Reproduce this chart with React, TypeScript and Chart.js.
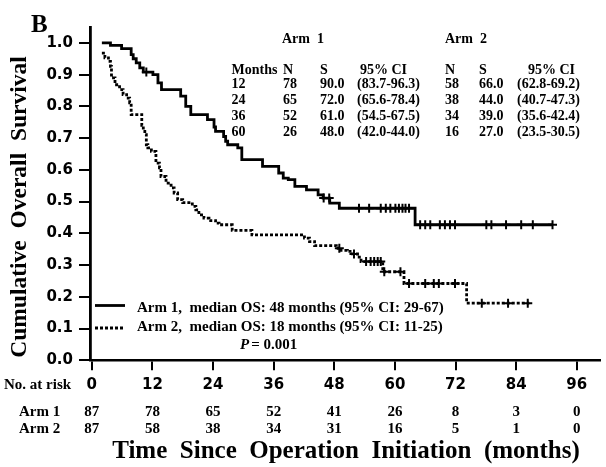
import React, { useEffect, useRef } from 'react';
import { Chart, registerables } from 'chart.js';

Chart.register(...registerables);

// ---------- data ----------
const xTicks = [0, 12, 24, 36, 48, 60, 72, 84, 96];
const yTicks = [0, 0.1, 0.2, 0.3, 0.4, 0.5, 0.6, 0.7, 0.8, 0.9, 1.0];

// Kaplan-Meier steps: at time t the survival drops to S
const arm1Times = [2.0, 3.7, 5.9, 7.8, 8.2, 8.8, 9.5, 10.2, 12.1, 13.1, 13.8, 17.6, 18.6, 19.6, 22.9, 24.2, 24.5, 26.1, 26.5, 26.9, 28.9, 29.7, 33.8, 37.0, 37.9, 38.9, 40.2, 42.5, 44.8, 45.8, 47.1, 49.0, 64.0, 91.2];
const arm1Surv = [1.0, 0.992, 0.982, 0.963, 0.95, 0.937, 0.921, 0.908, 0.9, 0.874, 0.853, 0.832, 0.8, 0.774, 0.758, 0.735, 0.721, 0.705, 0.69, 0.679, 0.669, 0.632, 0.611, 0.59, 0.574, 0.569, 0.548, 0.537, 0.521, 0.511, 0.495, 0.479, 0.427, 0.427];
const arm1Censor = [10.8, 45.9, 47.0, 52.9, 54.9, 57.2, 58.2, 59.1, 60.1, 60.8, 61.5, 62.1, 62.8, 65.0, 66.0, 67.0, 68.9, 69.9, 70.9, 71.9, 78.1, 79.1, 82.0, 85.0, 87.3, 91.2];

const arm2Times = [2.0, 2.6, 3.3, 3.7, 3.9, 4.6, 5.5, 6.2, 6.9, 7.5, 7.8, 9.9, 10.2, 10.5, 10.8, 11.1, 11.8, 12.7, 13.4, 13.7, 14.7, 15.7, 16.3, 17.0, 18.0, 19.9, 20.6, 21.2, 22.2, 23.2, 24.5, 25.2, 27.8, 31.7, 42.1, 43.1, 44.1, 48.4, 49.3, 50.6, 51.6, 52.6, 53.3, 57.6, 61.8, 74.2, 86.6];
const arm2Surv = [0.968, 0.953, 0.942, 0.926, 0.89, 0.868, 0.853, 0.837, 0.826, 0.811, 0.774, 0.74, 0.721, 0.711, 0.679, 0.669, 0.658, 0.621, 0.606, 0.579, 0.558, 0.543, 0.527, 0.506, 0.497, 0.485, 0.474, 0.458, 0.448, 0.44, 0.432, 0.427, 0.409, 0.395, 0.385, 0.374, 0.361, 0.353, 0.346, 0.343, 0.335, 0.325, 0.311, 0.279, 0.242, 0.18, 0.18];
const arm2Censor = [49.0, 51.9, 54.3, 55.2, 55.9, 56.6, 57.2, 57.9, 61.1, 62.8, 66.0, 67.7, 68.7, 71.9, 77.2, 82.4, 86.3];

const riskArm1 = ['87', '78', '65', '52', '41', '26', '8', '3', '0'];
const riskArm2 = ['87', '58', '38', '34', '31', '16', '5', '1', '0'];

const tableMonths = ['12', '24', '36', '60'];
const arm1N = ['78', '65', '52', '26'];
const arm1S = ['90.0', '72.0', '61.0', '48.0'];
const arm1CI = ['(83.7-96.3)', '(65.6-78.4)', '(54.5-67.5)', '(42.0-44.0)'];
const arm2N = ['58', '38', '34', '16'];
const arm2S = ['66.0', '44.0', '39.0', '27.0'];
const arm2CI = ['(62.8-69.2)', '(40.7-47.3)', '(35.6-42.4)', '(23.5-30.5)'];

const legendArm1 = 'Arm 1,  median OS: 48 months (95% CI: 29-67)';
const legendArm2 = 'Arm 2,  median OS: 18 months (95% CI: 11-25)';
const pValue = '= 0.001';

// ---------- helpers ----------
const SERIF = '"Liberation Serif", "Times New Roman", serif';
const SANS = '"DejaVu Sans", sans-serif';

function survAt(times: number[], surv: number[], t: number) {
  let v = surv[0];
  for (let i = 0; i < times.length; i++) {
    if (times[i] <= t) v = surv[i];
  }
  return v;
}

const textPlugin = {
  id: 'textPlugin',
  afterDraw(chart: any) {
    const ctx = chart.ctx as CanvasRenderingContext2D;
    const xs = chart.scales.x;
    const put = (s: string, x: number, y: number, font: string, align: CanvasTextAlign = 'left', base: CanvasTextBaseline = 'middle') => {
      ctx.font = font;
      ctx.textAlign = align;
      ctx.textBaseline = base;
      ctx.fillStyle = '#000';
      ctx.fillText(s, x, y);
    };
    ctx.save();
    // panel letter
    put('B', 31, 31.5, `bold 25px ${SERIF}`, 'left', 'alphabetic');

    // y title
    ctx.save();
    ctx.translate(20, 207);
    ctx.rotate(-Math.PI / 2);
    put('Cumulative  Overall  Survival', 0, 0, `bold 23.5px ${SERIF}`, 'center', 'middle');
    ctx.restore();

    // inner table
    const tf = `bold 14px ${SERIF}`;
    put('Arm  1', 282, 39.5, tf);
    put('Arm  2', 445, 39.5, tf);
    put('Months', 231.5, 70.5, tf);
    put('N', 283, 70.5, tf);
    put('S', 320, 70.5, tf);
    put('95% CI', 360, 70.5, tf);
    put('N', 445, 70.5, tf);
    put('S', 479, 70.5, tf);
    put('95% CI', 528, 70.5, tf);
    const rowsY = [84.3, 100.3, 116.6, 132.8];
    tableMonths.forEach((m, i) => {
      const y = rowsY[i];
      put(m, 231.5, y, tf);
      put(arm1N[i], 283, y, tf);
      put(arm1S[i], 320, y, tf);
      put(arm1CI[i], 357, y, tf);
      put(arm2N[i], 445, y, tf);
      put(arm2S[i], 479, y, tf);
      put(arm2CI[i], 517, y, tf);
    });

    // legend
    ctx.strokeStyle = '#000';
    ctx.lineWidth = 2.8;
    ctx.setLineDash([]);
    ctx.beginPath();
    ctx.moveTo(95, 305.5);
    ctx.lineTo(125, 305.5);
    ctx.stroke();
    ctx.setLineDash([3, 2]);
    ctx.beginPath();
    ctx.moveTo(95, 328);
    ctx.lineTo(125, 328);
    ctx.stroke();
    ctx.setLineDash([]);
    const lf = `bold 15px ${SERIF}`;
    put(legendArm1, 137, 308, lf);
    put(legendArm2, 137, 327, lf);
    put('P', 240, 345.5, `italic bold 15px ${SERIF}`);
    ctx.font = `italic bold 15px ${SERIF}`;
    const pw = ctx.measureText('P').width;
    put(pValue, 240 + pw + 2, 345.5, lf);

    // number at risk
    put('No. at risk', 4, 385.5, `bold 15px ${SERIF}`);
    const rf = `bold 15px ${SERIF}`;
    put('Arm 1', 19, 412, rf);
    put('Arm 2', 19, 429, rf);
    xTicks.forEach((t, i) => {
      const px = xs.getPixelForValue(t);
      put(riskArm1[i], px, 412, rf, 'center');
      put(riskArm2[i], px, 429, rf, 'center');
    });

    // x title
    put('Time  Since  Operation  Initiation  (months)', 346, 452, `bold 25px ${SERIF}`, 'center', 'middle');
    ctx.restore();
  },
};

export default function App() {
  const ref = useRef<HTMLCanvasElement | null>(null);
  useEffect(() => {
    if (!ref.current) return;
    const lineData = (times: number[], surv: number[]) => times.map((t, i) => ({ x: t, y: surv[i] }));
    const censorData = (c: number[], times: number[], surv: number[]) => c.map((t) => ({ x: t, y: survAt(times, surv, t) }));
    const axisFont = { family: SANS, size: 15, weight: 'bold' as const };
    const chart = new Chart(ref.current, {
      type: 'line',
      data: {
        datasets: [
          {
            label: 'Arm 1',
            data: lineData(arm1Times, arm1Surv),
            stepped: 'before',
            borderColor: '#000',
            borderWidth: 2.8,
            pointRadius: 0,
            fill: false,
          },
          {
            label: 'Arm 2',
            data: lineData(arm2Times, arm2Surv),
            stepped: 'before',
            borderColor: '#000',
            borderWidth: 2.8,
            borderDash: [3, 2],
            pointRadius: 0,
            fill: false,
          },
          {
            label: 'Arm 1 censored',
            data: censorData(arm1Censor, arm1Times, arm1Surv),
            showLine: false,
            pointStyle: 'cross',
            pointRadius: 4.5,
            pointBorderWidth: 2,
            borderColor: '#000',
            pointBorderColor: '#000',
          },
          {
            label: 'Arm 2 censored',
            data: censorData(arm2Censor, arm2Times, arm2Surv),
            showLine: false,
            pointStyle: 'cross',
            pointRadius: 4.5,
            pointBorderWidth: 2,
            borderColor: '#000',
            pointBorderColor: '#000',
          },
        ],
      } as any,
      options: {
        animation: false,
        responsive: false,
        events: [],
        layout: { padding: { top: 27, right: 2, left: 0, bottom: 0 } },
        plugins: { legend: { display: false }, tooltip: { enabled: false } },
        scales: {
          x: {
            type: 'linear',
            min: -0.35,
            max: 100.5,
            afterBuildTicks: (s: any) => {
              s.ticks = xTicks.map((v) => ({ value: v }));
            },
            afterFit: (s: any) => {
              s.height = 106.7;
            },
            grid: { drawOnChartArea: false, drawTicks: true, tickLength: 10, color: '#000', lineWidth: 2 },
            border: { display: true, color: '#000', width: 2.5 },
            ticks: { color: '#000', font: axisFont, padding: 6, maxRotation: 0, autoSkip: false },
          },
          y: {
            type: 'linear',
            min: 0,
            max: 1.05,
            afterBuildTicks: (s: any) => {
              s.ticks = yTicks.map((v) => ({ value: v }));
            },
            afterFit: (s: any) => {
              s.width = 90;
            },
            grid: { drawOnChartArea: false, drawTicks: true, tickLength: 11, color: '#000', lineWidth: 2 },
            border: { display: true, color: '#000', width: 2.8 },
            ticks: {
              color: '#000',
              font: axisFont,
              padding: 6,
              callback: (v: any) => Number(v).toFixed(1),
            },
          },
        },
      } as any,
      plugins: [textPlugin],
    });
    return () => chart.destroy();
  }, []);
  return (
    <div style={{ position: 'fixed', left: 0, top: 0, width: 606, height: 467, background: '#fff' }}>
      <canvas ref={ref} width={606} height={467} style={{ display: 'block', width: 606, height: 467 }} />
    </div>
  );
}
